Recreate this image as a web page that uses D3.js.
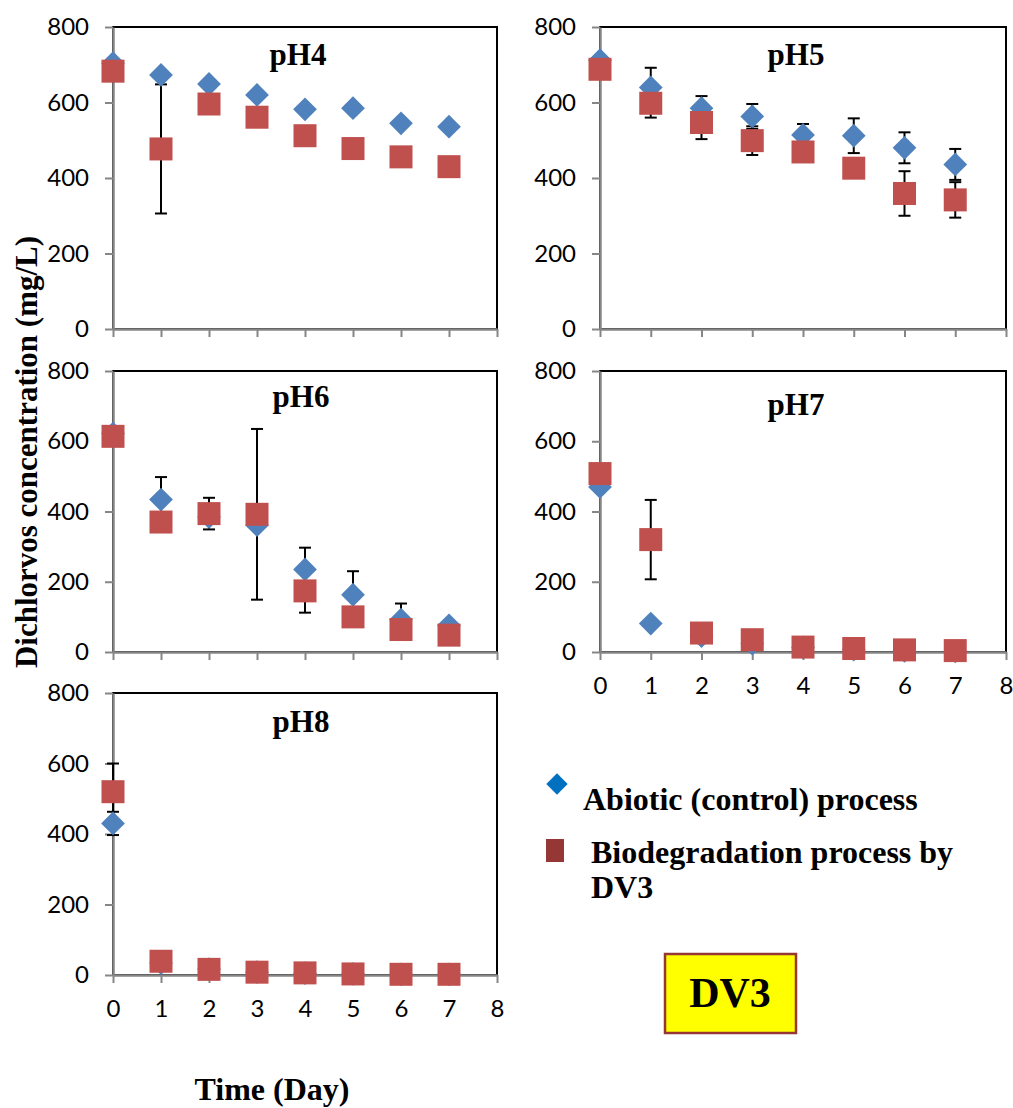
<!DOCTYPE html>
<html>
<head>
<meta charset="utf-8">
<script src="https://cdn.jsdelivr.net/npm/d3@7/dist/d3.min.js"></script>
<style>
  body { margin: 0; background: #fff; }
  .tick text { font-family: Lato, "Open Sans", sans-serif; font-size: 24px; fill: #000; }
  .serif { font-family: "Liberation Serif", "Times New Roman", serif; font-weight: bold; }
</style>
</head>
<body>
<svg id="chart" width="1013" height="1108"></svg>
<script>
var days = [0, 1, 2, 3, 4, 5, 6, 7];
var yTicks = [0, 200, 400, 600, 800];
var xTicks = [0, 1, 2, 3, 4, 5, 6, 7, 8];

// dichlorvos, mg/L
var abioticPH4 = [704, 673, 649, 620, 582, 585, 545, 536];
var bioPH4     = [683, 477, 596, 561, 512, 478, 456, 430];
var abioticErrPH4 = [0, 0, 0, 0, 0, 0, 0, 0];
var bioErrPH4     = [0, 171, 0, 0, 0, 0, 0, 0];

var abioticPH5 = [712, 640, 585, 563, 514, 512, 480, 436];
var bioPH5     = [688, 598, 547, 499, 469, 426, 359, 342];
var abioticErrPH5 = [0, 52, 32, 33, 29, 46, 41, 41];
var bioErrPH5     = [0, 38, 44, 38, 0, 0, 59, 47];

var abioticPH6 = [622, 434, 384, 361, 235, 163, 92, 76];
var bioPH6     = [614, 370, 394, 392, 174, 100, 64, 48];
var abioticErrPH6 = [0, 64, 0, 0, 62, 67, 46, 0];
var bioErrPH6     = [0, 0, 45, 243, 62, 0, 0, 0];

var abioticPH7 = [470, 81, 45, 24, 13, 7, 3, 2];
var bioPH7     = [508, 320, 54, 35, 14, 10, 6, 4];
var abioticErrPH7 = [0, 0, 0, 0, 0, 0, 0, 0];
var bioErrPH7     = [0, 113, 0, 0, 0, 0, 0, 0];

var abioticPH8 = [430, 34, 17, 8, 5, 3, 2, 2];
var bioPH8     = [520, 39, 16, 8, 6, 3, 2, 2];
var abioticErrPH8 = [33, 0, 0, 0, 0, 0, 0, 0];
var bioErrPH8     = [80, 0, 0, 0, 0, 0, 0, 0];

var panels = [
  {name: "pH4", a: abioticPH4, b: bioPH4, ae: abioticErrPH4, be: bioErrPH4, x0: 113, x1: 497, y0: 27, y1: 329, lab: false, tx: 298, ty: 65},
  {name: "pH5", a: abioticPH5, b: bioPH5, ae: abioticErrPH5, be: bioErrPH5, x0: 600, x1: 1006, y0: 27, y1: 329, lab: false, tx: 796, ty: 65},
  {name: "pH6", a: abioticPH6, b: bioPH6, ae: abioticErrPH6, be: bioErrPH6, x0: 113, x1: 497, y0: 371, y1: 652, lab: false, tx: 301, ty: 407},
  {name: "pH7", a: abioticPH7, b: bioPH7, ae: abioticErrPH7, be: bioErrPH7, x0: 600, x1: 1006, y0: 371, y1: 652, lab: true, tx: 796, ty: 415},
  {name: "pH8", a: abioticPH8, b: bioPH8, ae: abioticErrPH8, be: bioErrPH8, x0: 113, x1: 497, y0: 693, y1: 975, lab: true, tx: 301, ty: 732}
];

var blue = "#4F81BD", red = "#C0504D", axisGrey = "#868686";
var svg = d3.select("#chart");

panels.forEach(function(p) {
  var x = d3.scaleLinear().domain([0, 8]).range([p.x0, p.x1]);
  var y = d3.scaleLinear().domain([0, 800]).range([p.y1, p.y0]);
  var g = svg.append("g");

  // plot area frame (top / right black)
  g.append("rect")
    .attr("x", p.x0).attr("y", p.y0)
    .attr("width", p.x1 - p.x0).attr("height", p.y1 - p.y0)
    .attr("fill", "none").attr("stroke", "#000").attr("stroke-width", 2);

  var ya = g.append("g").attr("transform", "translate(" + p.x0 + ",0)")
    .call(d3.axisLeft(y).tickValues(yTicks).tickSize(8).tickPadding(16).tickSizeOuter(0));
  var xa = g.append("g").attr("transform", "translate(0," + p.y1 + ")")
    .call(d3.axisBottom(x).tickValues(xTicks).tickSize(8).tickPadding(17).tickSizeOuter(0)
      .tickFormat(p.lab ? d3.format("d") : function() { return ""; }));
  [ya, xa].forEach(function(a) {
    a.select(".domain").attr("stroke", axisGrey).attr("stroke-width", 2.5);
    a.selectAll(".tick line").attr("stroke", axisGrey).attr("stroke-width", 2);
  });

  g.append("text").attr("class", "serif")
    .attr("x", p.tx).attr("y", p.ty)
    .attr("text-anchor", "middle").attr("font-size", 31).text(p.name);

  // error bars
  function errBars(vals, errs) {
    var d = days.filter(function(i) { return errs[i] > 0; });
    var eg = g.append("g").attr("stroke", "#000").attr("stroke-width", 2);
    d.forEach(function(i) {
      var cx = x(i), top = y(vals[i] + errs[i]), bot = y(vals[i] - errs[i]);
      eg.append("line").attr("x1", cx).attr("x2", cx).attr("y1", top).attr("y2", bot);
      eg.append("line").attr("x1", cx - 6).attr("x2", cx + 6).attr("y1", top).attr("y2", top);
      eg.append("line").attr("x1", cx - 6).attr("x2", cx + 6).attr("y1", bot).attr("y2", bot);
    });
  }
  errBars(p.a, p.ae);
  errBars(p.b, p.be);

  var dia = d3.symbol().type(d3.symbolDiamond2).size(360);
  g.append("g").selectAll("path").data(days).join("path")
    .attr("d", dia)
    .attr("transform", function(i) { return "translate(" + x(i) + "," + y(p.a[i]) + ")"; })
    .attr("fill", blue);
  g.append("g").selectAll("rect").data(days).join("rect")
    .attr("x", function(i) { return x(i) - 11.5; })
    .attr("y", function(i) { return y(p.b[i]) - 11.5; })
    .attr("width", 23).attr("height", 23)
    .attr("fill", red);
});

// axis titles
svg.append("text").attr("class", "serif")
  .attr("transform", "translate(37,452) rotate(-90)")
  .attr("text-anchor", "middle").attr("font-size", 31)
  .text("Dichlorvos concentration (mg/L)");
svg.append("text").attr("class", "serif")
  .attr("x", 272).attr("y", 1100)
  .attr("text-anchor", "middle").attr("font-size", 32)
  .text("Time (Day)");

// legend
var lg = svg.append("g");
lg.append("path").attr("d", d3.symbol().type(d3.symbolDiamond2).size(290))
  .attr("transform", "translate(557,784)").attr("fill", "#0070C0");
lg.append("text").attr("class", "serif").attr("x", 583).attr("y", 810)
  .attr("font-size", 32).text("Abiotic (control) process");
lg.append("rect").attr("x", 546).attr("y", 839).attr("width", 18).attr("height", 23)
  .attr("fill", "#953735");
lg.append("text").attr("class", "serif").attr("x", 591).attr("y", 863)
  .attr("font-size", 32).text("Biodegradation process by");
lg.append("text").attr("class", "serif").attr("x", 591).attr("y", 898)
  .attr("font-size", 32).text("DV3");

// DV3 label box
svg.append("rect").attr("x", 665).attr("y", 954).attr("width", 131).attr("height", 79)
  .attr("fill", "#FFFF00").attr("stroke", "#953735").attr("stroke-width", 2.5);
svg.append("text").attr("class", "serif").attr("x", 730).attr("y", 1007)
  .attr("text-anchor", "middle").attr("font-size", 42).text("DV3");
</script>
</body>
</html>
